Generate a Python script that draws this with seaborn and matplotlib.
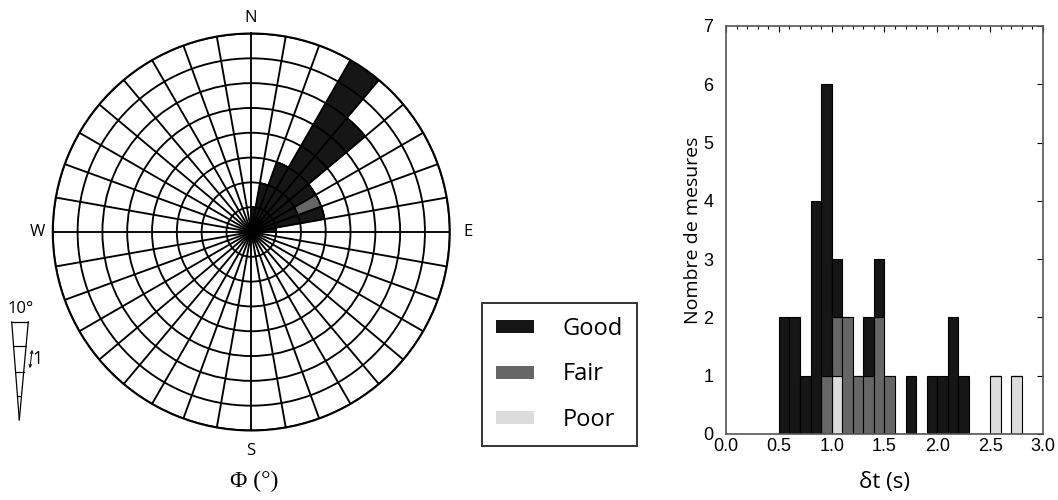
import numpy as np
import pandas as pd
import matplotlib
matplotlib.use("Agg")
import matplotlib.pyplot as plt
import seaborn as sns
from matplotlib.patches import Patch, FancyArrowPatch
from matplotlib.lines import Line2D

# rose diagram of fast directions, 10 deg sectors (counts per sector)
phi_centers = [5, 15, 25, 35, 45, 55, 65, 75, 85]
phi_good = [1, 2, 3, 8, 6, 3, 2, 3, 1]
phi_fair = [0, 0, 0, 0, 0, 0, 1, 0, 0]
phi_poor = [0, 0, 0, 0, 0, 0, 0, 0, 0]

# delay times, 0.1 s bins (bin centres)
dt_centers = [0.55, 0.65, 0.75, 0.85, 0.95, 1.05, 1.15, 1.25, 1.35, 1.45, 1.55, 1.65,
              1.75, 1.85, 1.95, 2.05, 2.15, 2.25, 2.35, 2.45, 2.55, 2.65, 2.75]
dt_good = [2, 2, 1, 4, 5, 1, 0, 0, 1, 1, 0, 0, 1, 0, 1, 1, 2, 1, 0, 0, 0, 0, 0]
dt_fair = [0, 0, 0, 0, 1, 1, 2, 1, 1, 2, 1, 0, 0, 0, 0, 0, 0, 0, 0, 0, 0, 0, 0]
dt_poor = [0, 0, 0, 0, 0, 1, 0, 0, 0, 0, 0, 0, 0, 0, 0, 0, 0, 0, 0, 0, 1, 0, 1]

qualities = ["Good", "Fair", "Poor"]
colors = {"Good": "#161616", "Fair": "#666666", "Poor": "#dcdcdc"}

sns.set_style("white")
plt.rcParams["font.family"] = ["Open Sans", "DejaVu Sans"]
plt.rcParams.update({"text.color": "black", "axes.labelcolor": "black",
                     "xtick.color": "black", "ytick.color": "black"})

fig = plt.figure(figsize=(10.58, 5.0), dpi=100)
px = lambda x, y: (x / 1058, 1 - y / 500)

# ---- rose diagram ----
ax_rose = fig.add_axes([0.0499, 0.139, 0.3752, 0.794], projection="polar")
n = len(phi_centers)
rose_df = pd.DataFrame({
    "phi": np.deg2rad(phi_centers * 3),
    "count": phi_good + phi_fair + phi_poor,
    "quality": ["Good"] * n + ["Fair"] * n + ["Poor"] * n,
})
# good petals at the base, fair/poor stacked outward
sns.histplot(data=rose_df, x="phi", weights="count", hue="quality",
             hue_order=qualities[::-1], palette=colors,
             bins=list(np.deg2rad(np.arange(0, 91, 10))), multiple="stack",
             edgecolor="black", linewidth=0.8, alpha=1, legend=False, ax=ax_rose)
ax_rose.set_theta_zero_location("N")
ax_rose.set_theta_direction(-1)
ax_rose.set_rlim(0, 8)
ax_rose.set_yticks(range(1, 9))
ax_rose.set_xticks(np.deg2rad(np.arange(0, 360, 10)))
ax_rose.set_xticklabels([])
ax_rose.set_yticklabels([])
ax_rose.grid(True, color="black", linewidth=1.35)
ax_rose.set_axisbelow(False)
ax_rose.spines["polar"].set_linewidth(1.5)
ax_rose.spines["polar"].set_color("black")
ax_rose.set_xlabel("")
ax_rose.set_ylabel("")

for lab, x, y in [("N", 251, 18), ("E", 468, 232), ("S", 251, 451), ("W", 37, 232)]:
    fig.text(*px(x, y), lab, ha="center", va="center", fontsize=12)
fig.text(*px(254, 481), "Φ (°)", ha="center", va="center", fontsize=17,
         family=["Liberation Serif", "DejaVu Serif"])

# scale wedge: 10 deg sector, ticks every count
for (x0, y0), (x1, y1) in [((19.3, 420), (11.7, 321.7)), ((19.3, 420), (28.3, 321.7)),
                           ((11.7, 321.7), (28.3, 321.7))]:
    fig.add_artist(Line2D(*zip(px(x0, y0), px(x1, y1)), color="black", lw=0.9))
for y in [346, 371.5, 396]:
    half = (420 - y) * np.tan(np.deg2rad(5))
    fig.add_artist(Line2D(*zip(px(19.3 - half, y), px(19.3 + half, y)), color="black", lw=0.9))
fig.add_artist(FancyArrowPatch(px(32.5, 347), px(29.5, 371), arrowstyle="<->",
                               mutation_scale=5, lw=0.7, color="black",
                               transform=fig.transFigure))
fig.text(*px(38, 359), "1", ha="center", va="center", fontsize=13)
fig.text(*px(21, 309), "10°", ha="center", va="center", fontsize=12)

# legend
handles = [Patch(facecolor=colors[q], edgecolor="none") for q in qualities]
leg = fig.legend(handles, qualities, loc="upper left", bbox_to_anchor=px(482, 303),
                 frameon=True, fancybox=False, edgecolor="black", fontsize=17,
                 handlelength=1.6, handleheight=0.47, labelspacing=0.9,
                 handletextpad=1.2, borderpad=0.6, borderaxespad=0)
leg.get_frame().set_linewidth(1.4)

# ---- delay time histogram ----
ax_hist = fig.add_axes([0.6862, 0.132, 0.2996, 0.816])
m = len(dt_centers)
dt_df = pd.DataFrame({
    "dt": dt_centers * 3,
    "count": dt_good + dt_fair + dt_poor,
    "quality": ["Good"] * m + ["Fair"] * m + ["Poor"] * m,
})
# poor at the base, then fair, good on top
sns.histplot(data=dt_df, x="dt", weights="count", hue="quality",
             hue_order=qualities, palette=colors,
             bins=list(np.round(np.arange(0.5, 2.81, 0.1), 2)), multiple="stack",
             edgecolor="black", linewidth=0.8, alpha=1, legend=False, ax=ax_hist)
ax_hist.set_xlim(0, 3)
ax_hist.set_ylim(0, 7)
ax_hist.set_xticks(np.arange(0, 3.01, 0.5))
ax_hist.set_xticks(np.arange(0, 3.01, 0.1), minor=True)
ax_hist.set_yticks(range(8))
ax_hist.set_xticklabels([f"{v:.1f}" for v in np.arange(0, 3.01, 0.5)])
ax_hist.tick_params(which="both", direction="in", top=True, right=True,
                    labelsize=13, color="black")
ax_hist.tick_params(axis="x", pad=3)
ax_hist.tick_params(axis="y", pad=9)
ax_hist.tick_params(which="major", length=4, width=0.8)
ax_hist.tick_params(which="minor", length=2, width=0.8)
ax_hist.tick_params(axis="y", which="minor", left=False, right=False)
for lbl in ax_hist.get_xticklabels() + ax_hist.get_yticklabels():
    lbl.set_family(["Liberation Sans", "DejaVu Sans"])
for sp in ax_hist.spines.values():
    sp.set_color("#555555")
    sp.set_linewidth(1.2)
ax_hist.set_xlabel("δt (s)", fontsize=16, labelpad=12)
ax_hist.set_ylabel("Nombre de mesures", fontsize=14, labelpad=1)

fig.savefig("out.png", dpi=100)
